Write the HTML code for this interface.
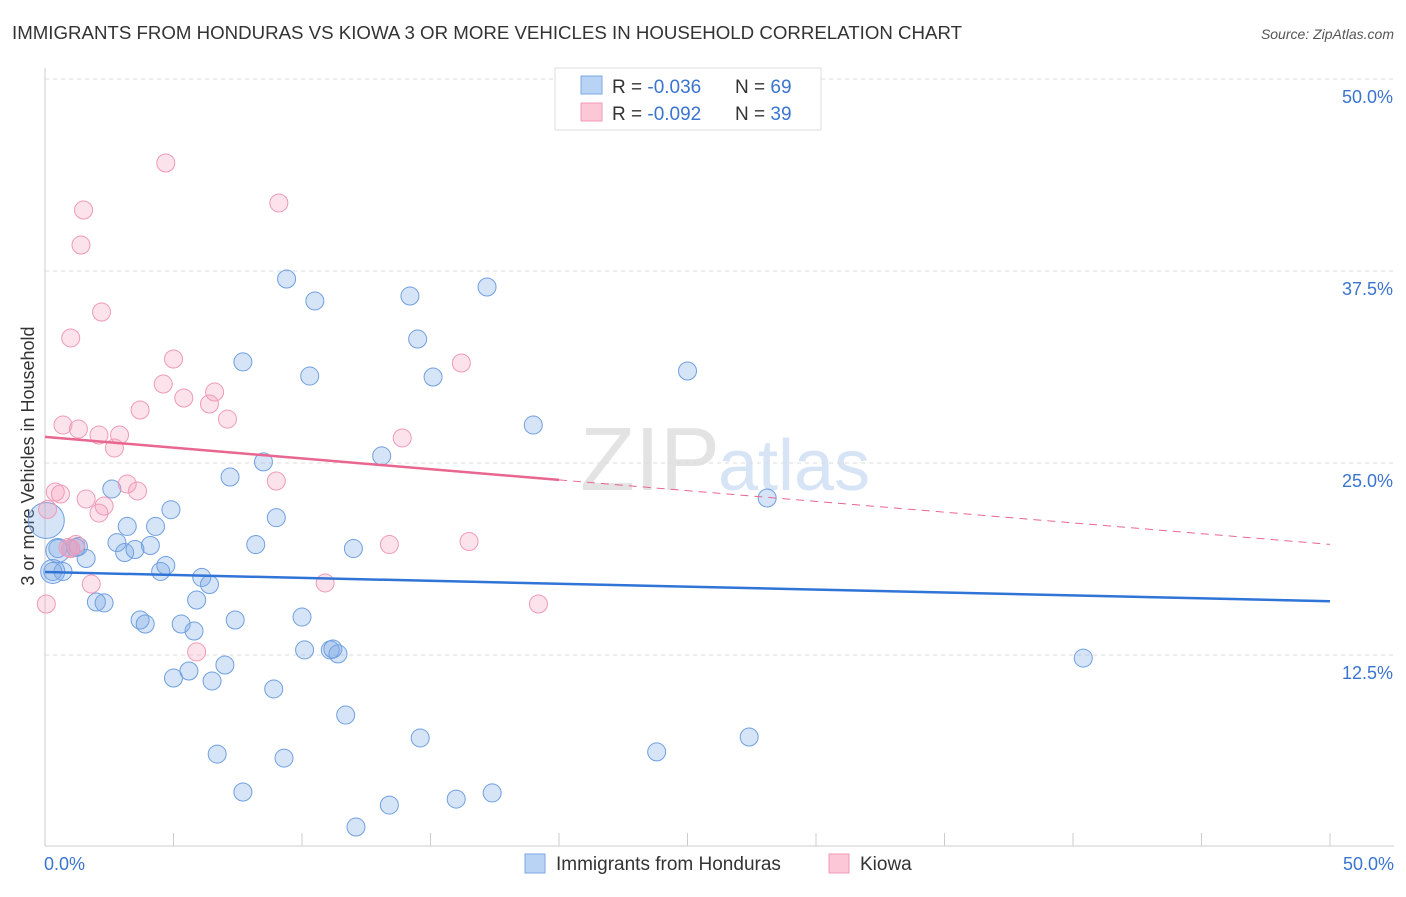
<!DOCTYPE html>
<html><head><meta charset="utf-8"><style>
body{margin:0;background:#fff;font-family:"Liberation Sans",sans-serif;}
svg text{font-family:"Liberation Sans",sans-serif;}
</style></head><body>
<svg id="c" width="1406" height="892">
<text x="12" y="39" font-size="18" fill="#333" textLength="950" lengthAdjust="spacingAndGlyphs">IMMIGRANTS FROM HONDURAS VS KIOWA 3 OR MORE VEHICLES IN HOUSEHOLD CORRELATION CHART</text>
<text x="1394" y="39" font-size="14" fill="#555" font-style="italic" text-anchor="end">Source: ZipAtlas.com</text>
<text x="720" y="490" font-size="90" fill="#e3e3e3" font-family="Liberation Serif" text-anchor="end">ZIP</text>
<text x="718" y="490" font-size="72" fill="#d6e4f6">atlas</text>
<text transform="translate(34,456) rotate(-90)" font-size="18" fill="#333" text-anchor="middle">3 or more Vehicles in Household</text>
<g id="grid"></g><g id="marks"></g>
<g>
<rect x="555" y="68" width="266" height="62" fill="#fff" stroke="#ddd"/>
<rect x="581" y="76" width="21" height="18" fill="#b9d3f5" stroke="#7aa7e6"/>
<rect x="581" y="103" width="21" height="18" fill="#fcc7d7" stroke="#f09ab5"/>
<text x="612" y="93" font-size="19" fill="#333">R = <tspan fill="#3a74d0">-0.036</tspan></text>
<text x="735" y="93" font-size="19" fill="#333">N = <tspan fill="#3a74d0">69</tspan></text>
<text x="612" y="120" font-size="19" fill="#333">R = <tspan fill="#3a74d0">-0.092</tspan></text>
<text x="735" y="120" font-size="19" fill="#333">N = <tspan fill="#3a74d0">39</tspan></text>
</g>
<g>
<rect x="525" y="854" width="20" height="19" fill="#b9d3f5" stroke="#7aa7e6"/>
<text x="556" y="870" font-size="19" fill="#333">Immigrants from Honduras</text>
<rect x="829" y="854" width="20" height="19" fill="#fcc7d7" stroke="#f09ab5"/>
<text x="860" y="870" font-size="19" fill="#333">Kiowa</text>
</g>
<text x="44" y="870" font-size="18" fill="#3a74d0">0.0%</text>
<text x="1394" y="870" font-size="18" fill="#3a74d0" text-anchor="end">50.0%</text>
</svg>
<script>
const yTicks=[12.5,25,37.5,50];
const yTickLabels=["12.5%","25.0%","37.5%","50.0%"];
const blueX=[9.4,10.5,14.2,17.2,14.5,7.7,10.3,15.1,25.0,19.0,13.1,8.5,7.2,2.6,28.1,4.9,9.0,3.2,4.3,2.8,4.1,8.2,12.0,1.0,1.3,3.1,3.5,1.6,0.5,0.7,0.3,4.5,4.7,6.1,6.4,2.0,2.3,5.9,10.0,3.7,3.9,5.3,5.8,7.4,10.1,11.1,11.4,11.2,7.0,5.6,5.0,6.5,8.9,11.7,40.4,14.6,23.8,27.4,6.7,9.3,7.7,17.4,16.0,13.4,12.1,0.05,0.5,0.3,1.2];
const blueY=[36.98,35.55,35.87,36.46,33.07,31.58,30.66,30.60,30.99,27.47,25.46,25.07,24.09,23.31,22.72,21.96,21.44,20.87,20.87,19.82,19.63,19.69,19.43,19.43,19.56,19.17,19.37,18.78,19.43,17.94,17.94,17.94,18.33,17.55,17.09,15.95,15.89,16.08,14.97,14.78,14.52,14.52,14.06,14.78,12.83,12.83,12.57,12.89,11.85,11.46,11.00,10.81,10.29,8.59,12.30,7.10,6.19,7.16,6.05,5.79,3.58,3.52,3.12,2.73,1.30,21.26,19.30,17.94,19.50];
const blueR=[9,9,9,9,9,9,9,9,9,9,9,9,9,9,9,9,9,9,9,9,9,9,9,9,9,9,9,9,9,9,9,9,9,9,9,9,9,9,9,9,9,9,9,9,9,9,9,9,9,9,9,9,9,9,9,9,9,9,9,9,9,9,9,9,9,18,12,12,9];
const pinkX=[4.7,9.1,1.5,1.4,2.2,1.0,5.0,4.6,6.6,5.4,6.4,16.2,3.7,0.7,1.3,7.1,2.9,2.1,13.9,2.7,0.4,0.6,1.6,3.2,3.6,9.0,0.1,2.3,2.1,1.0,1.2,13.4,16.5,1.8,10.9,19.2,0.05,5.9,0.9];
const pinkY=[44.53,41.93,41.47,39.19,34.83,33.14,31.77,30.14,29.62,29.23,28.84,31.51,28.45,27.47,27.21,27.86,26.82,26.82,26.63,25.98,23.11,22.98,22.66,23.63,23.18,23.83,21.98,22.20,21.74,19.43,19.69,19.69,19.89,17.12,17.19,15.82,15.82,12.70,19.50];
const blueLine=[17.9,16.0];
const pinkLine=[26.7,19.7];
const pinkSolidEnd=20;
const X=v=>45+v*25.7, Y=v=>847-v*15.36;
const NS="http://www.w3.org/2000/svg";
const grid=document.getElementById('grid'), marks=document.getElementById('marks');
function mk(tag,attrs,parent){const e=document.createElementNS(NS,tag);for(const k in attrs)e.setAttribute(k,attrs[k]);parent.appendChild(e);return e;}
yTicks.forEach((t,i)=>{
 const l=mk('line',{x1:45,x2:1394,y1:Y(t),y2:Y(t),stroke:'#ddd','stroke-dasharray':'4,4'},grid);
 
 
 const tx=mk('text',{x:1393,y:Y(t)+24,'font-size':18,fill:'#3a74d0','text-anchor':'end'},grid);
 tx.textContent=yTickLabels[i];
 
 
});
const ax=mk('line',{x1:45,x2:1394,y1:846,y2:846,stroke:'#ccc'},grid);


const ay=mk('line',{x1:45,x2:45,y1:68,y2:846,stroke:'#ccc'},grid);


for(let i=0;i<=10;i++){const t=mk('line',{x1:X(i*5),x2:X(i*5),y1:833,y2:846,stroke:'#ccc'},grid);
 
 }
blueX.forEach((v,i)=>{const c=mk('circle',{cx:X(v),cy:Y(blueY[i]),r:blueR[i],fill:'rgba(120,165,230,0.3)',stroke:'#6f9fe0','stroke-width':1},marks);
 
 });
pinkX.forEach((v,i)=>{const c=mk('circle',{cx:X(v),cy:Y(pinkY[i]),r:9,fill:'rgba(245,160,190,0.3)',stroke:'#ef9ab6','stroke-width':1},marks);
 
 });
const bl=mk('line',{x1:X(0),y1:Y(blueLine[0]),x2:X(50),y2:Y(blueLine[1]),stroke:'#2f74d6','stroke-width':2.5},marks);


const pm=pinkLine[0]+(pinkLine[1]-pinkLine[0])*pinkSolidEnd/50;
const pl=mk('line',{x1:X(0),y1:Y(pinkLine[0]),x2:X(pinkSolidEnd),y2:Y(pm),stroke:'#e8668f','stroke-width':2.5},marks);


const pd=mk('line',{x1:X(pinkSolidEnd),y1:Y(pm),x2:X(50),y2:Y(pinkLine[1]),stroke:'#e8668f','stroke-width':1,'stroke-dasharray':'8,6'},marks);


</script>
</body></html>
